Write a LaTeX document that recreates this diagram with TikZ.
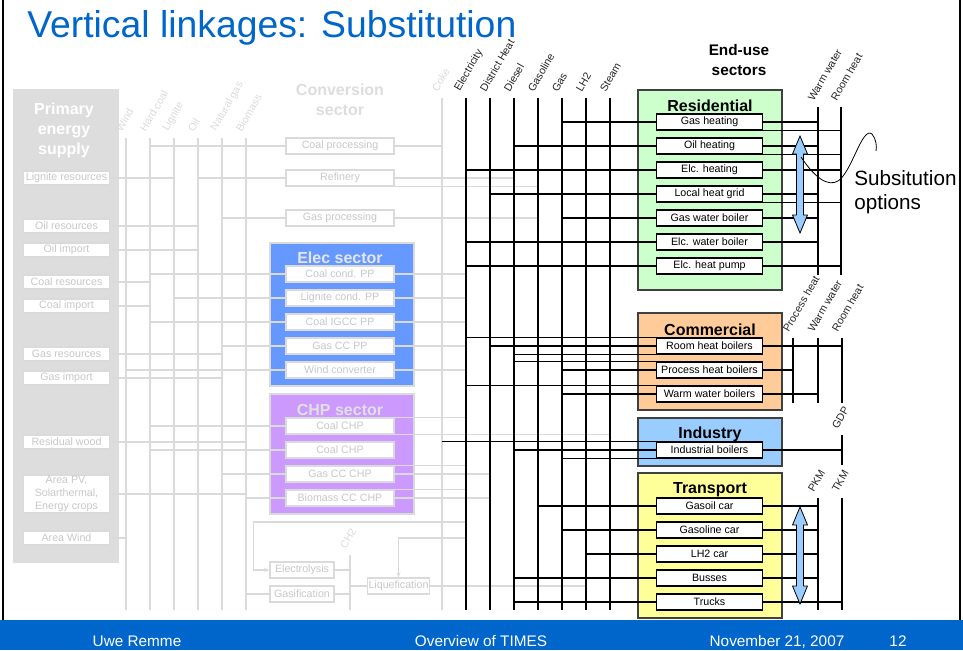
\documentclass[tikz,border=0pt]{standalone}
\usepackage{fontspec}
\setmainfont{Liberation Sans}
\usetikzlibrary{arrows.meta,calc}
\definecolor{ttlblue}{RGB}{0,102,204}
\definecolor{elecblue}{RGB}{102,153,255}
\definecolor{chppurple}{RGB}{204,153,255}
\definecolor{resgreen}{RGB}{204,255,204}
\definecolor{comorange}{RGB}{255,204,153}
\definecolor{indblue}{RGB}{153,204,255}
\definecolor{trayellow}{RGB}{255,255,153}
\definecolor{pegrey}{RGB}{221,221,221}
\definecolor{lngrey}{RGB}{218,218,218}
\definecolor{txgrey}{RGB}{200,200,200}
\tikzset{
  gline/.style={draw=lngrey, line width=0.9pt},
  bline/.style={draw=black, line width=0.9pt},
  gbox/.style={draw=lngrey, fill=white, text=txgrey, font=\fontsize{8}{9.5}\selectfont,
    inner sep=1pt, minimum width=65pt, minimum height=10.5pt, line width=0.8pt},
  cbox/.style={gbox, minimum width=81pt, minimum height=12pt},
  hbox/.style={gbox, minimum width=48pt, minimum height=12pt},
  ebox/.style={draw=black, fill=white, font=\fontsize{8}{9.5}\selectfont,
    inner sep=1pt, minimum width=79pt, minimum height=12pt, line width=0.8pt},
  sector/.style={draw=black!75, line width=0.8pt},
  sectitle/.style={font=\bfseries\fontsize{12}{14}\selectfont, inner sep=0pt, align=center},
  carrier/.style={rotate=60, anchor=south west, font=\fontsize{8}{9.5}\selectfont, inner sep=0pt},
  dblarrow/.style={draw=black, fill=indblue, line width=0.6pt},
  foot/.style={anchor=base, text=white, font=\fontsize{11.5}{13}\selectfont, inner sep=0pt},
}
\begin{document}
\begin{tikzpicture}[x=0.75pt,y=0.75pt,yscale=-1,xscale=1]
\useasboundingbox (0,0) rectangle (963,650);

% slide frame and footer
\fill[ttlblue] (0,620) rectangle (963,650);
\draw[line width=1.2pt] (3,0) -- (3,620);
\draw[line width=1.2pt] (960,0) -- (960,620);
\node[anchor=base west, text=ttlblue, font=\fontsize{28}{32}\selectfont, inner sep=0pt] (title) at (27,37) {Vertical linkages: Substitution};
\node[foot] (ftauth) at (137,646) {Uwe Remme};
\node[foot] (fttitle) at (481,646) {Overview of TIMES};
\node[foot] (ftdate) at (777,646) {November 21, 2007};
\node[foot] (ftpage) at (898,646) {12};

%Shape: sector backgrounds
\fill[pegrey] (13,89) rectangle (119,563);
\draw[draw=lngrey, fill=elecblue, line width=0.8pt] (270,243) rectangle (414,386);
\draw[draw=lngrey, fill=chppurple, line width=0.8pt] (270,394) rectangle (414,514);
\draw[sector, fill=resgreen] (638,90) rectangle (782,290);
\draw[sector, fill=comorange] (638,313) rectangle (782,410);
\draw[sector, fill=indblue] (638,418) rectangle (782,466);
\draw[sector, fill=trayellow] (638,473) rectangle (782,618);

% titles
\node[sectitle, text=white] (petitle) at (64,130) {Primary\\[1pt]energy\\[1pt]supply};
\node[sectitle, text=pegrey] (convtitle) at (340,100) {Conversion\\[1pt]sector};
\node[sectitle, text=black!10] (electitle) at (340,258) {Elec sector};
\node[sectitle, text=black!12] (chptitle) at (340,410) {CHP sector};
\node[sectitle, font=\bfseries\fontsize{11.5}{13.5}\selectfont] (endtitle) at (739,60) {End-use\\[1pt]sectors};
\node[sectitle] (restitle) at (710,106) {Residential};
\node[sectitle] (comtitle) at (710,330) {Commercial};
\node[sectitle] (indtitle) at (710,434) {Industry};
\node[sectitle] (tratitle) at (710,490) {Transport};

% primary energy supply
\node[gbox] (lignres) at (66.5,178) {Lignite resources};
\node[gbox] (oilres) at (66.5,226) {Oil resources};
\node[gbox] (oilimp) at (66.5,250) {Oil import};
\node[gbox] (coalres) at (66.5,282) {Coal resources};
\node[gbox] (coalimp) at (66.5,306) {Coal import};
\node[gbox] (gasres) at (66.5,354) {Gas resources};
\node[gbox] (gasimp) at (66.5,378) {Gas import};
\node[gbox] (reswood) at (66.5,442) {Residual wood};
\node[gbox, align=center, minimum height=28.5pt] (areapv) at (66.5,494) {Area PV,\\Solarthermal,\\Energy crops};
\node[gbox] (areawind) at (66.5,538) {Area Wind};

% conversion sector
\node[cbox] (coalproc) at (340,146) {Coal processing};
\node[cbox] (refin) at (340,178) {Refinery};
\node[cbox] (gasproc) at (340,218) {Gas processing};
\node[cbox] (ccpp) at (340,274) {Coal cond. PP};
\node[cbox] (lcpp) at (340,298) {Lignite cond. PP};
\node[cbox] (igcc) at (340,322) {Coal IGCC PP};
\node[cbox] (gccpp) at (340,346) {Gas CC PP};
\node[cbox] (windconv) at (340,370) {Wind converter};
\node[cbox] (cchpa) at (340,426) {Coal CHP};
\node[cbox] (cchpb) at (340,450) {Coal CHP};
\node[cbox] (gcchp) at (340,474) {Gas CC CHP};
\node[cbox] (bcchp) at (340,498) {Biomass CC CHP};
\node[hbox] (elyz) at (302,570) {Electrolysis};
\node[hbox] (gasif) at (302,594) {Gasification};
\node[hbox, minimum width=47pt] (liqf) at (398.5,586) {Liquefication};

% end-use sectors
\node[ebox] (gasht) at (709.5,122) {Gas heating};
\node[ebox] (oilht) at (709.5,146) {Oil heating};
\node[ebox] (elcht) at (709.5,170) {Elc. heating};
\node[ebox] (lhgrid) at (709.5,194) {Local heat grid};
\node[ebox] (gwboil) at (709.5,218) {Gas water boiler};
\node[ebox] (ewboil) at (709.5,242) {Elc. water boiler};
\node[ebox] (ehpump) at (709.5,266) {Elc. heat pump};
\node[ebox] (rhboil) at (709.5,346) {Room heat boilers};
\node[ebox] (phboil) at (709.5,370) {Process heat boilers};
\node[ebox] (wwboil) at (709.5,394) {Warm water boilers};
\node[ebox] (indboil) at (709.5,450) {Industrial boilers};
\node[ebox] (gocar) at (709.5,506) {Gasoil car};
\node[ebox] (glcar) at (709.5,530) {Gasoline car};
\node[ebox] (lhcar) at (709.5,554) {LH2 car};
\node[ebox] (busses) at (709.5,578) {Busses};
\node[ebox] (trucks) at (709.5,602) {Trucks};

% carrier lines
\coordinate (wind) at (126,138);
\coordinate (hcoal) at (150,138);
\coordinate (lign) at (174,138);
\coordinate (oil) at (198,138);
\coordinate (ngas) at (222,138);
\coordinate (bmass) at (246,138);
\coordinate (coke) at (442,98);
\coordinate (elc) at (466,98);
\coordinate (dheat) at (490,98);
\coordinate (dsl) at (514,98);
\coordinate (gsl) at (538,98);
\coordinate (gas) at (562,98);
\coordinate (lh2) at (586,98);
\coordinate (stm) at (610,98);
\coordinate (ch2) at (350,555);
\coordinate (rww) at (818,107);
\coordinate (rrh) at (841,107);
\coordinate (cph) at (793,338);
\coordinate (cww) at (818,338);
\coordinate (crh) at (842,338);
\coordinate (gdp) at (842,435);
\coordinate (gdpend) at (842,465);
\coordinate (pkm) at (818,498);
\coordinate (tkm) at (842,498);
\coordinate (bot) at (0,610);

%Straight Lines: grey network
\foreach \c in {wind,hcoal,lign,oil,ngas,bmass,coke,ch2}
  \draw[gline] (\c) -- (\c |- bot);
\foreach \nd/\bs in {lignres/lign, oilres/oil, oilimp/oil, coalres/hcoal, coalimp/hcoal,
    gasres/ngas, gasimp/ngas, reswood/bmass, areapv/bmass, areawind/wind}
  \draw[gline] (\nd.east) -- (\nd.east -| \bs);
\foreach \bs/\nd in {hcoal/coalproc, oil/refin, ngas/gasproc, hcoal/ccpp, lign/lcpp, hcoal/igcc,
    ngas/gccpp, wind/windconv, hcoal/cchpa, hcoal/cchpb, ngas/gcchp, bmass/bcchp, bmass/gasif, ch2/liqf}
  \draw[gline] (\bs |- \nd.west) -- (\nd.west);
\foreach \nd/\an/\bs in {coalproc/east/coke, refin/east/dsl, refin/south east/gsl, gasproc/east/gsl,
    ccpp/east/elc, lcpp/east/elc, igcc/east/elc, gccpp/east/elc, windconv/east/elc,
    cchpa/north east/elc, cchpa/south east/stm, gcchp/north east/elc, gcchp/east/dheat,
    bcchp/north east/elc, bcchp/east/dheat, liqf/east/lh2, gasif/east/ch2, elyz/east/ch2}
  \draw[gline] (\nd.\an) -- (\nd.\an -| \bs);
\draw[gline, -{Stealth[length=4pt,width=3pt]}] (elc |- 0,522) -| ($(elyz.west)+(-16,0)$) -- (elyz.west);
\draw[gline, -{Stealth[length=4pt,width=3pt]}] (elc |- 0,538) -| (liqf.north);

%Straight Lines: black network
\foreach \c in {elc,dheat,dsl,gsl,gas,lh2,stm,pkm,tkm}
  \draw[bline] (\c) -- (\c |- bot);
\draw[bline] (rww) -- (rww |- ehpump.south);
\draw[bline] (rrh) -- (rrh |- ehpump.south);
\foreach \c in {cph,cww,crh}
  \draw[bline] (\c) -- (\c |- wwboil.south);
\draw[bline] (gdp) -- (gdpend);
\foreach \bs/\nd/\an in {gas/gasht/west, dsl/oilht/west, elc/elcht/west, dheat/lhgrid/west,
    gas/gwboil/west, elc/ewboil/west, elc/ehpump/west,
    elc/rhboil/north west, dheat/rhboil/west, dsl/rhboil/south west,
    dsl/phboil/north west, gas/phboil/west, elc/wwboil/north west, gas/wwboil/west,
    coke/indboil/north west, dsl/indboil/west, gas/indboil/south west,
    gsl/gocar/west, gas/glcar/west, lh2/lhcar/west, dsl/busses/west, dsl/trucks/west}
  \draw[bline] (\bs |- \nd.\an) -- (\nd.\an);
\foreach \nd/\an/\bs in {gasht/east/rww, gasht/south east/rrh, oilht/east/rww, oilht/south east/rrh,
    elcht/east/rrh, lhgrid/east/rww, lhgrid/south east/rrh, gwboil/east/rww, ewboil/east/rww,
    ehpump/east/rrh, rhboil/east/crh, phboil/east/cph, wwboil/east/cww, indboil/east/gdp,
    gocar/east/pkm, glcar/east/pkm, lhcar/east/pkm, busses/east/pkm, trucks/east/tkm}
  \draw[bline] (\nd.\an) -- (\nd.\an -| \bs);

% Text Node: carrier labels
\foreach \c/\t in {wind/Wind, hcoal/Hard coal, lign/Lignite, oil/Oil, ngas/Natural gas,
    bmass/Biomass, coke/Coke, ch2/CH2}
  \node[carrier, text=lngrey] (lbl\c) at ($(\c)+(-4,-5)$) {\t};
\foreach \c/\t in {elc/Electricity, dheat/District Heat, dsl/Diesel, gsl/Gasoline, gas/Gas,
    lh2/LH2, stm/Steam, rww/Warm water, rrh/Room heat, cph/Process heat, cww/Warm water,
    crh/Room heat, gdp/GDP, pkm/PKM, tkm/TKM}
  \node[carrier, text=black!85] (lbl\c) at ($(\c)+(-4,-5)$) {\t};

%Shape: substitution arrows
\foreach \ya/\yb in {136/233, 507/604}
  \filldraw[dblarrow] (800,\ya) -- (807.5,\ya+18) -- (803.5,\ya+18) -- (803.5,\yb-18)
    -- (807.5,\yb-18) -- (800,\yb) -- (792.5,\yb-18) -- (796.5,\yb-18) -- (796.5,\ya+18)
    -- (792.5,\ya+18) -- cycle;
\draw[line width=0.6pt] (801,157) .. controls (815,178) and (828,187) .. (838,181)
  .. controls (852,172) and (862,126) .. (872,134) .. controls (876,139) and (877,146) .. (876,151);
\node[anchor=north west, align=left, inner sep=0pt, font=\fontsize{15.5}{18}\selectfont] (subst) at (854,170) {Subsitution\\options};

\end{tikzpicture}
\end{document}
